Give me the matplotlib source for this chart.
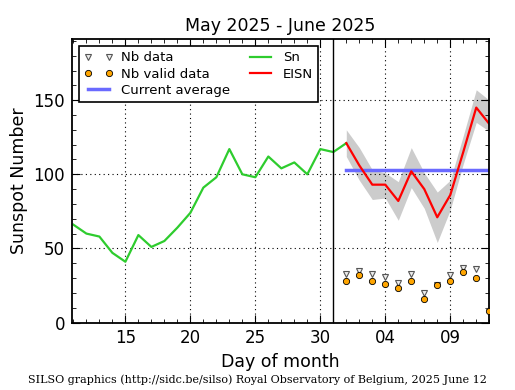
import matplotlib
matplotlib.use("Agg")
import matplotlib.pyplot as plt
from matplotlib.ticker import MultipleLocator

# days counted from May 1 (June 1 = 32)
sn_days = list(range(11, 33))
sn = [66, 60, 58, 47, 41, 59, 51, 55, 64, 74, 91, 98, 117, 100, 98, 112,
      104, 108, 100, 117, 115, 121]

eisn_days = list(range(32, 44))
eisn = [121, 106, 93, 93, 82, 102, 90, 71, 86, 115, 145, 134]
eisn_hi = [130, 118, 103, 101, 95, 118, 101, 88, 96, 126, 157, 150]
eisn_lo = [112, 96, 83, 84, 69, 91, 77, 54, 76, 107, 135, 129]

nb_data = [33, 35, 33, 31, 27, 33, 20, 25, 32, 37, 36, 8]
nb_valid = [28, 32, 28, 26, 23, 28, 16, 25, 28, 34, 30, 8]

current_avg = 103
tick_pos = [15, 20, 25, 30, 35, 40]
tick_labels = ["15", "20", "25", "30", "04", "09"]


def main():
    fig = plt.figure(figsize=(5.15, 3.9), dpi=100)
    ax = fig.add_axes([0.140, 0.173, 0.810, 0.726])

    ax.fill_between(eisn_days, eisn_lo, eisn_hi, color="#cccccc", lw=0)
    ax.plot([eisn_days[0], eisn_days[-1]], [current_avg, current_avg],
            color="#6a6aff", lw=2.5, label="Current average")
    ax.plot(sn_days, sn, color="#2ecc2e", lw=1.6, label="Sn")
    ax.plot(eisn_days, eisn, color="red", lw=1.6, label="EISN")
    ax.plot(eisn_days, nb_data, ls="none", marker="v", ms=4.5,
            mfc="#eeeeee", mec="#555555", mew=0.8, label="Nb data")
    ax.plot(eisn_days, nb_valid, ls="none", marker="o", ms=4.5,
            mfc="orange", mec="black", mew=0.6, label="Nb valid data",
            zorder=5)
    ax.axvline(31, color="black", lw=1)

    ax.set_xlim(10.9, 43.0)
    ax.set_ylim(0, 191)
    ax.set_xticks(tick_pos)
    ax.set_xticklabels(tick_labels)
    ax.xaxis.set_minor_locator(MultipleLocator(1))
    ax.yaxis.set_major_locator(MultipleLocator(50))
    ax.yaxis.set_minor_locator(MultipleLocator(10))
    ax.tick_params(which="both", direction="in", top=True, right=True,
                   labelsize=12)
    ax.tick_params(which="major", length=6, pad=5)
    ax.tick_params(which="minor", length=3)
    ax.grid(True, which="major", color="black", ls=(0, (1, 3)), lw=0.8)
    for s in ax.spines.values():
        s.set_linewidth(1.3)

    ax.set_title("May 2025 - June 2025", fontsize=12.5)
    ax.set_xlabel("Day of month", fontsize=12.5)
    ax.set_ylabel("Sunspot Number", fontsize=12.5)

    h, l = ax.get_legend_handles_labels()
    order = [3, 4, 0, 1, 2]
    leg = ax.legend([h[i] for i in order], [l[i] for i in order],
                    loc="upper left", ncol=2, fontsize=9.5, numpoints=2,
                    fancybox=False, edgecolor="black", framealpha=1,
                    handlelength=2.2, columnspacing=1.2, borderpad=0.4,
                    labelspacing=0.25, handletextpad=0.6)
    leg.get_frame().set_linewidth(1.2)

    fig.text(0.5, 0.018, "SILSO graphics (http://sidc.be/silso) Royal Observatory of Belgium, 2025 June 12",
             ha="center", fontsize=8, family="DejaVu Serif")

    fig.savefig("out.png", dpi=100)


if __name__ == '__main__':
    main()
